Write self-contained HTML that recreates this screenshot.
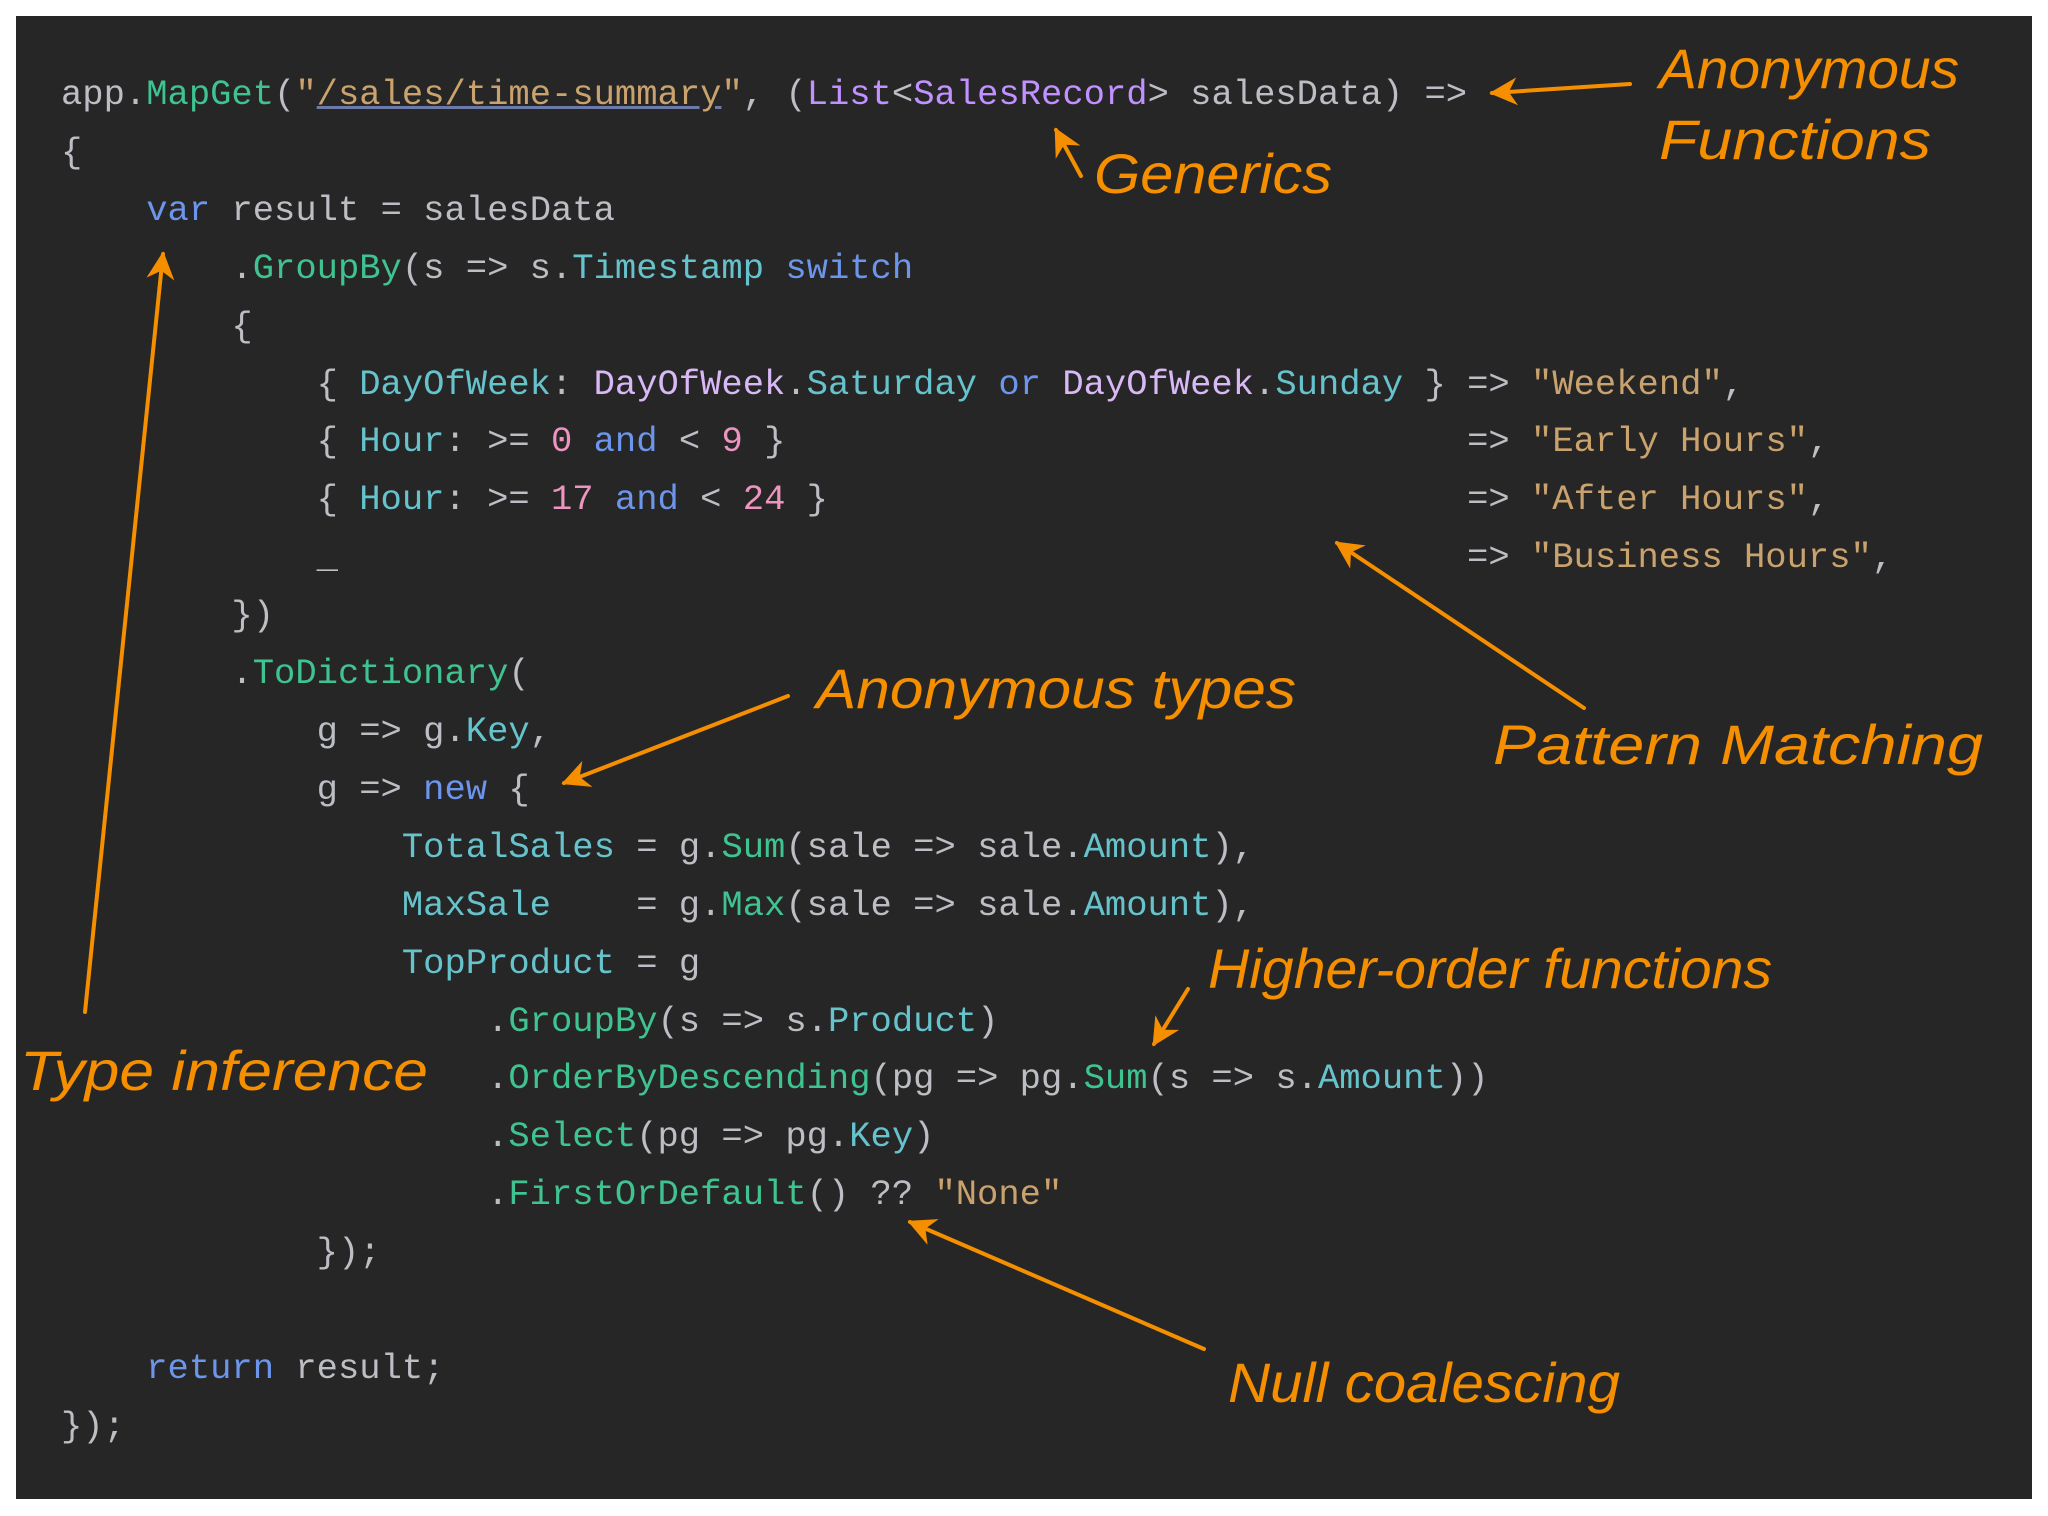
<!DOCTYPE html>
<html><head><meta charset="utf-8"><style>
html,body{margin:0;padding:0;background:#fff;width:2048px;height:1516px;overflow:hidden}
#box{position:absolute;left:16px;top:16px;width:2016px;height:1483px;background:#262626}
pre{position:absolute;left:61px;top:66px;margin:0;font-family:"Liberation Mono",monospace;font-size:35.5px;line-height:57.9px;color:#bcbec4;white-space:pre}
.m{color:#3fc391}.s{color:#c9a26d}.u{text-decoration:underline;text-decoration-color:#6b7aa8}
.t{color:#c191ff}.k{color:#6c95eb}.p{color:#66c3cc}.e{color:#d8b8f5}.n{color:#ed94c0}
svg{position:absolute;left:0;top:0}
.a{font-family:"Liberation Sans",sans-serif;font-style:italic;fill:#f58f00;font-size:56px}
</style></head><body>
<div id="box"></div>
<pre>app.<span class="m">MapGet</span>(<span class="s">"<span class="u">/sales/time-summary</span>"</span>, (<span class="t">List</span>&lt;<span class="t">SalesRecord</span>&gt; salesData) =&gt;
{
    <span class="k">var</span> result = salesData
        .<span class="m">GroupBy</span>(s =&gt; s.<span class="p">Timestamp</span> <span class="k">switch</span>
        {
            { <span class="p">DayOfWeek</span>: <span class="e">DayOfWeek</span>.<span class="p">Saturday</span> <span class="k">or</span> <span class="e">DayOfWeek</span>.<span class="p">Sunday</span> } =&gt; <span class="s">"Weekend"</span>,
            { <span class="p">Hour</span>: &gt;= <span class="n">0</span> <span class="k">and</span> &lt; <span class="n">9</span> }                                =&gt; <span class="s">"Early Hours"</span>,
            { <span class="p">Hour</span>: &gt;= <span class="n">17</span> <span class="k">and</span> &lt; <span class="n">24</span> }                              =&gt; <span class="s">"After Hours"</span>,
            _                                                     =&gt; <span class="s">"Business Hours"</span>,
        })
        .<span class="m">ToDictionary</span>(
            g =&gt; g.<span class="p">Key</span>,
            g =&gt; <span class="k">new</span> {
                <span class="p">TotalSales</span> = g.<span class="m">Sum</span>(sale =&gt; sale.<span class="p">Amount</span>),
                <span class="p">MaxSale</span>    = g.<span class="m">Max</span>(sale =&gt; sale.<span class="p">Amount</span>),
                <span class="p">TopProduct</span> = g
                    .<span class="m">GroupBy</span>(s =&gt; s.<span class="p">Product</span>)
                    .<span class="m">OrderByDescending</span>(pg =&gt; pg.<span class="m">Sum</span>(s =&gt; s.<span class="p">Amount</span>))
                    .<span class="m">Select</span>(pg =&gt; pg.<span class="p">Key</span>)
                    .<span class="m">FirstOrDefault</span>() ?? <span class="s">"None"</span>
            });

    <span class="k">return</span> result;
});</pre>
<svg width="2048" height="1516" viewBox="0 0 2048 1516">
<defs><marker id="ar" viewBox="0 0 10 10" refX="9" refY="5" markerWidth="7" markerHeight="7" orient="auto-start-reverse"><path d="M0,0 L10,5 L0,10 L3,5 z" fill="#f58f00"/></marker></defs>
<g stroke="#f58f00" stroke-width="4" fill="none" marker-end="url(#ar)" stroke-linecap="round">
<line x1="1630" y1="84" x2="1492" y2="93"/>
<line x1="1081" y1="176" x2="1056" y2="130"/>
<line x1="85" y1="1012" x2="163" y2="254"/>
<line x1="788" y1="696" x2="564" y2="783"/>
<line x1="1584" y1="708" x2="1337" y2="543"/>
<line x1="1188" y1="989" x2="1154" y2="1044"/>
<line x1="1204" y1="1349" x2="910" y2="1222"/>
</g>
<text class="a" x="1659" y="88" textLength="300" lengthAdjust="spacingAndGlyphs">Anonymous</text>
<text class="a" x="1659" y="159" textLength="272" lengthAdjust="spacingAndGlyphs">Functions</text>
<text class="a" x="1094" y="193" textLength="238" lengthAdjust="spacingAndGlyphs">Generics</text>
<text class="a" x="20" y="1090" textLength="408" lengthAdjust="spacingAndGlyphs">Type inference</text>
<text class="a" x="816" y="708" textLength="480" lengthAdjust="spacingAndGlyphs">Anonymous types</text>
<text class="a" x="1493" y="764" textLength="490" lengthAdjust="spacingAndGlyphs">Pattern Matching</text>
<text class="a" x="1208" y="988" textLength="564" lengthAdjust="spacingAndGlyphs">Higher-order functions</text>
<text class="a" x="1228" y="1402" textLength="392" lengthAdjust="spacingAndGlyphs">Null coalescing</text>
</svg>
</body></html>
